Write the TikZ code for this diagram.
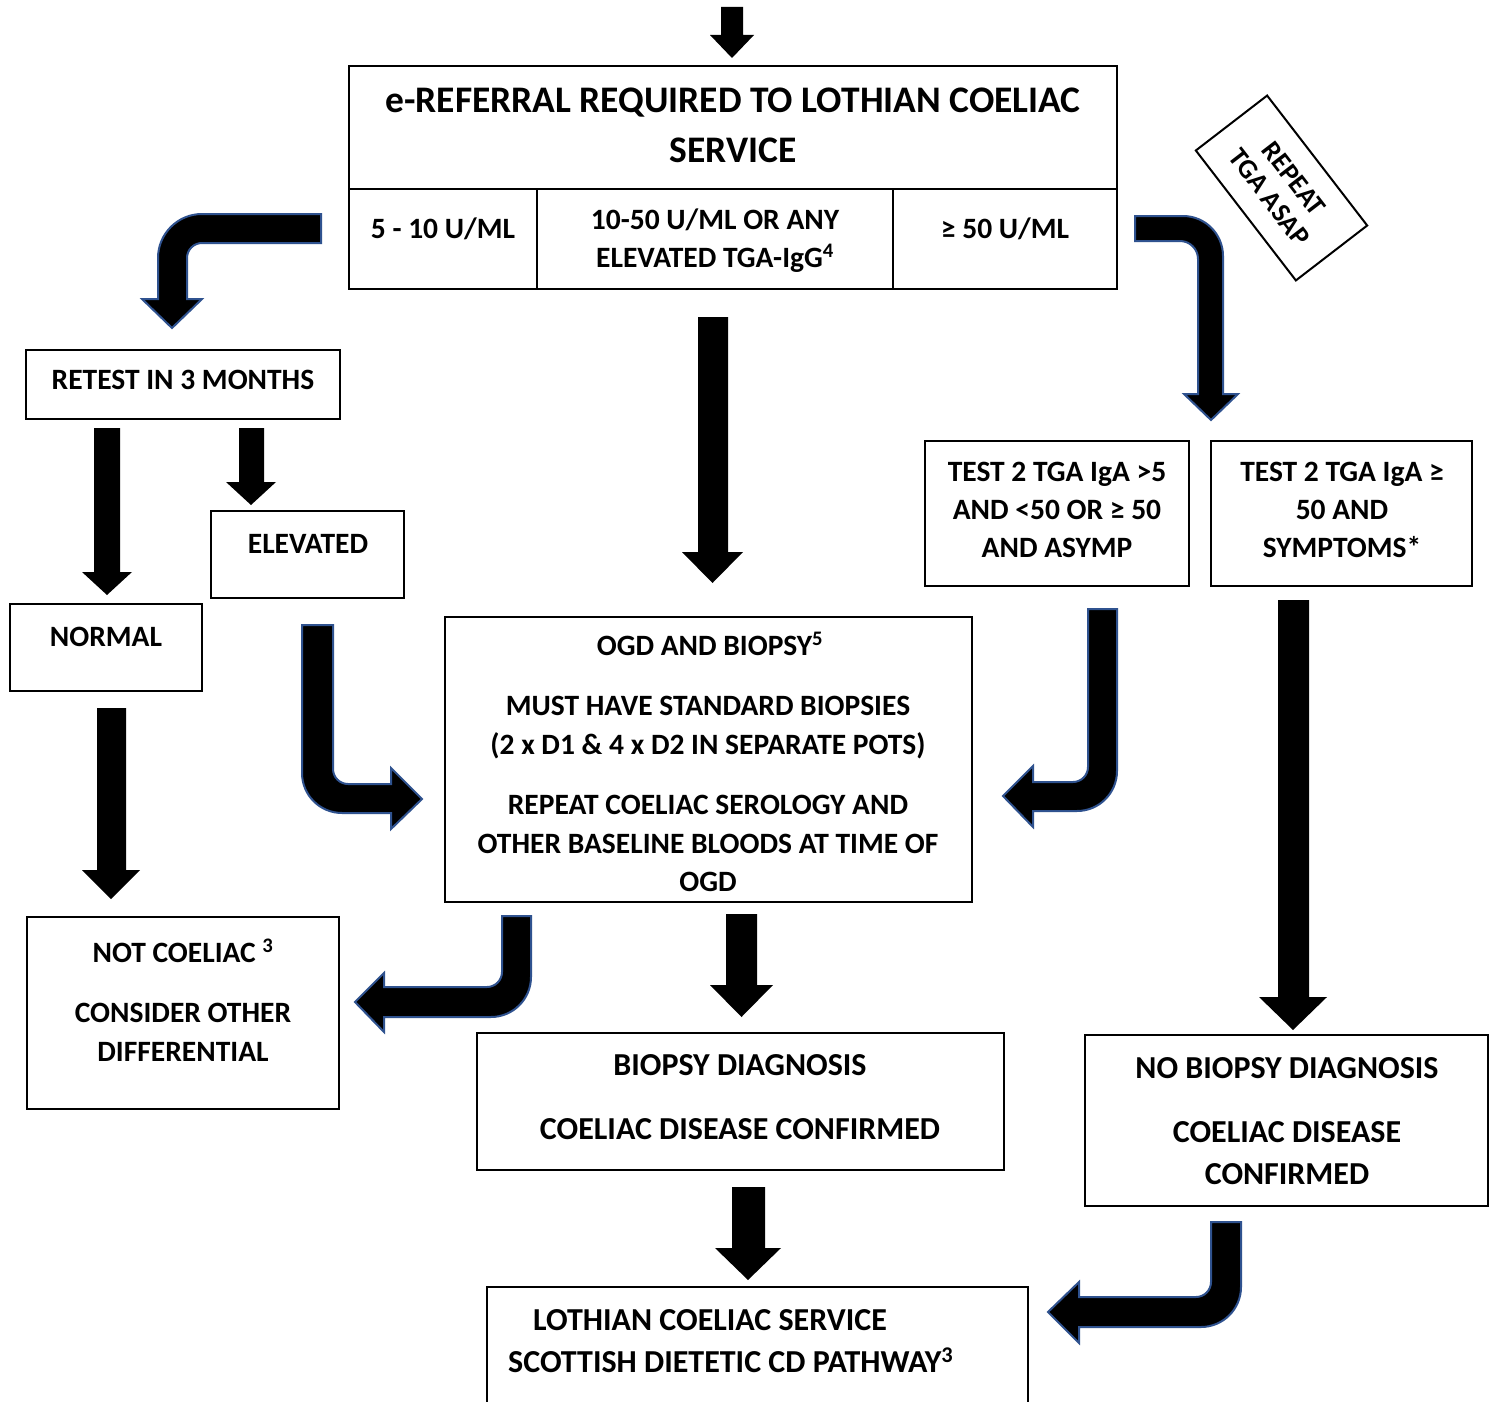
\documentclass[tikz,border=0pt]{standalone}
\usepackage{fontspec}
\setmainfont{Carlito}
\usetikzlibrary{calc}
\definecolor{arrowedge}{HTML}{2F528F}
\newcommand\qarc[3]{.. controls ($#1!0.552!#2$) and ($#3!0.552!#2$) .. #3}
% straight block arrow: x1 x2 ytop ybase ytip hx1 hx2
\newcommand\blockdown[7]{\fill[black] (#1,#3) -- (#2,#3) -- (#2,#4) -- (#7,#4) -- ({(#6+#7)/2},#5) -- (#6,#4) -- (#1,#4) -- cycle;}
\newcommand\boxnode[5]{\node[box, minimum width={#4-#2}, minimum height={#5-#3}] (#1) at ({(#2+#4)/2},{(#3+#5)/2}) {};}
\tikzset{
  box/.style={draw=black, line width=2.2pt, inner sep=0pt, outer sep=0pt, fill=none},
  bent/.style={fill=black, draw=arrowedge, line width=2pt, line join=miter},
  txt/.style={anchor=base, inner sep=0pt, font=\bfseries\fontsize{29.5}{34}\selectfont},
  big/.style={anchor=base, inner sep=0pt, font=\bfseries\fontsize{37.5}{42}\selectfont},
  mid/.style={anchor=base, inner sep=0pt, font=\bfseries\fontsize{32}{38}\selectfont},
}
\begin{document}
\begin{tikzpicture}[x=1pt,y=-1pt]
\useasboundingbox (0,0) rectangle (1494,1402);
\fill[white] (0,0) rectangle (1494,1402);

% ---------- boxes ----------
\boxnode{top}{349}{66}{1117}{289}
\draw[line width=2.2pt] (349,189) -- (1117,189);
\draw[line width=2.2pt] (537,189) -- (537,289);
\draw[line width=2.2pt] (893,189) -- (893,289);
\boxnode{retest}{26}{350}{340}{419}
\boxnode{elevated}{211}{511}{404}{598}
\boxnode{normal}{10}{604}{202}{691}
\boxnode{notcoeliac}{27}{917}{339}{1109}
\boxnode{ogd}{445}{617}{972}{902}
\boxnode{biopsy}{477}{1033}{1004}{1170}
\boxnode{lothian}{487}{1287}{1028}{1430}
\boxnode{testa}{925}{441}{1189}{586}
\boxnode{testb}{1211}{441}{1472}{586}
\boxnode{nobiopsy}{1085}{1035}{1488}{1206}

\node[draw=black, line width=2pt, minimum width=164, minimum height=90, inner sep=0pt, rotate=-52.4,
      align=center, font=\bfseries\fontsize{27.5}{31}\selectfont] (repeat) at (1281.5,188) {REPEAT\\TGA ASAP};

% ---------- texts ----------
\node[big] (t1) at (733,113) {e-REFERRAL REQUIRED TO LOTHIAN COELIAC};
\node[big] (t2) at (733,162) {SERVICE};
\node[txt] (c1) at (443,238) {5 - 10 U/ML};
\node[txt] (c2a) at (715,229) {10-50 U/ML OR ANY};
\node[txt] (c2b) at (715,267) {ELEVATED TGA-IgG\textsuperscript{4}};
\node[txt] (c3) at (1005,238) {≥ 50 U/ML};

\node[txt] (r1) at (183,389) {RETEST IN 3 MONTHS};
\node[txt] (e1) at (308,553) {ELEVATED};
\node[txt] (n1) at (106,646) {NORMAL};
\node[txt] (nc1) at (183,962) {NOT COELIAC \textsuperscript{3}};
\node[txt] (nc2) at (183,1022) {CONSIDER OTHER};
\node[txt] (nc3) at (183,1061) {DIFFERENTIAL};

\node[txt] (o1) at (710,655) {OGD AND BIOPSY\textsuperscript{5}};
\node[txt] (o2) at (708,715) {MUST HAVE STANDARD BIOPSIES};
\node[txt] (o3) at (708,754) {(2 x D1 \& 4 x D2 IN SEPARATE POTS)};
\node[txt] (o4) at (708,814) {REPEAT COELIAC SEROLOGY AND};
\node[txt] (o5) at (708,853) {OTHER BASELINE BLOODS AT TIME OF};
\node[txt] (o6) at (708,891) {OGD};

\node[txt] (ta1) at (1057,481) {TEST 2 TGA IgA >5};
\node[txt] (ta2) at (1057,519) {AND <50 OR ≥ 50};
\node[txt] (ta3) at (1057,557) {AND ASYMP};
\node[txt] (tb1) at (1342,481) {TEST 2 TGA IgA ≥};
\node[txt] (tb2) at (1342,519) {50 AND};
\node[txt] (tb3) at (1342,557) {SYMPTOMS*};

\node[mid] (b1) at (740,1075) {BIOPSY DIAGNOSIS};
\node[mid] (b2) at (740,1139) {COELIAC DISEASE CONFIRMED};
\node[mid] (nb1) at (1287,1078) {NO BIOPSY DIAGNOSIS};
\node[mid] (nb2) at (1287,1142) {COELIAC DISEASE};
\node[mid] (nb3) at (1287,1184) {CONFIRMED};
\node[mid, anchor=base west] (l1) at (533,1330) {LOTHIAN COELIAC SERVICE};
\node[mid, anchor=base west] (l2) at (508,1372) {SCOTTISH DIETETIC CD PATHWAY\textsuperscript{3}};

% ---------- straight block arrows ----------
\blockdown{721}{743}{7}{35}{58}{710}{754}
\blockdown{94}{120}{428}{572}{595}{82}{132}
\blockdown{239}{264}{428}{482}{505}{226}{276}
\blockdown{97}{126}{708}{870}{899}{82}{140}
\blockdown{698}{728}{317}{552}{583}{682}{743}
\blockdown{726}{757}{914}{985}{1017}{710}{773}
\blockdown{732}{765}{1187}{1248}{1280}{715}{781}
\blockdown{1278}{1309}{600}{997}{1030}{1259}{1327}

% ---------- bent block arrows ----------
\draw[bent] (321,214) -- (202,214) \qarc{(202,214)}{(158,214)}{(158,258)} -- (158,299) -- (142,299) -- (172,328) -- (202,299) -- (187,299) -- (187,258) \qarc{(187,258)}{(187,243)}{(202,243)} -- (321,243) -- cycle;
\draw[bent] (1135,216) -- (1183,216) \qarc{(1183,216)}{(1223,216)}{(1223,256)} -- (1223,394) -- (1238,394) -- (1211,420) -- (1184,394) -- (1198,394) -- (1198,259) \qarc{(1198,259)}{(1198,241)}{(1180,241)} -- (1135,241) -- cycle;
\draw[bent] (302,625) -- (333,625) -- (333,769) \qarc{(333,769)}{(333,784)}{(348,784)} -- (391,784) -- (391,768) -- (422,799) -- (391,829) -- (391,813) -- (342,813) \qarc{(342,813)}{(302,813)}{(302,773)} -- cycle;
\draw[bent] (1088,609) -- (1117,609) -- (1117,771) \qarc{(1117,771)}{(1117,811)}{(1077,811)} -- (1033,811) -- (1033,827) -- (1003,796) -- (1033,766) -- (1033,782) -- (1073,782) \qarc{(1073,782)}{(1088,782)}{(1088,767)} -- cycle;
\draw[bent] (502,916) -- (531,916) -- (531,977) \qarc{(531,977)}{(531,1017)}{(491,1017)} -- (384,1017) -- (384,1032) -- (355,1002) -- (384,973) -- (384,987) -- (487,987) \qarc{(487,987)}{(502,987)}{(502,972)} -- cycle;
\draw[bent] (1211,1222) -- (1241,1222) -- (1241,1287) \qarc{(1241,1287)}{(1241,1327)}{(1201,1327)} -- (1079,1327) -- (1079,1343) -- (1048,1312) -- (1079,1282) -- (1079,1297) -- (1196,1297) \qarc{(1196,1297)}{(1211,1297)}{(1211,1282)} -- cycle;
\end{tikzpicture}
\end{document}
